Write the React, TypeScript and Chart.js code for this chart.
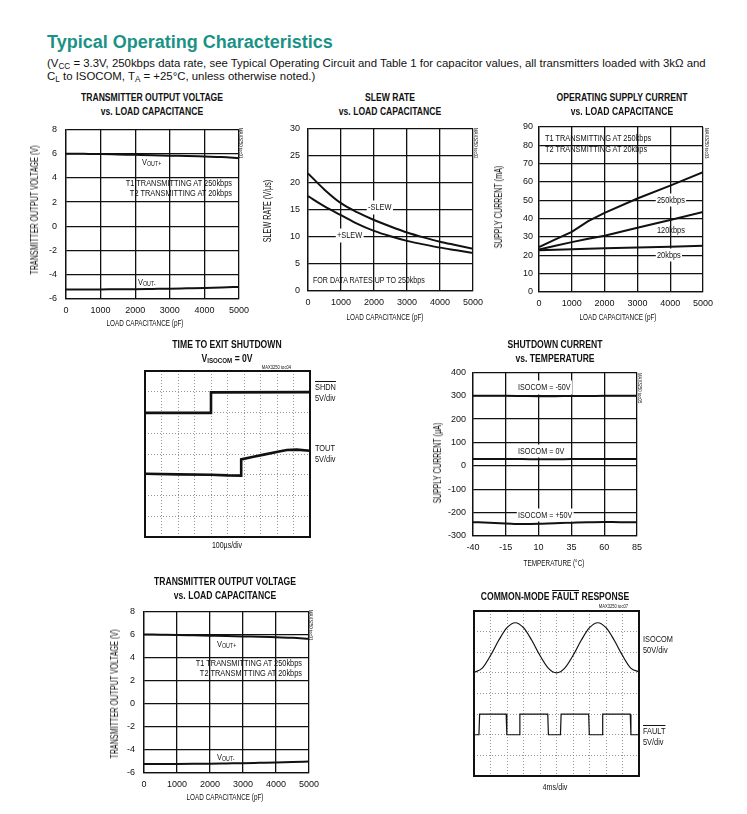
import React, { useEffect, useRef } from 'react';
import { Chart, registerables } from 'chart.js';

Chart.register(...registerables);

const SANS = "'Liberation Sans', Arial, Helvetica, sans-serif";
const INK = '#111111';
const TEAL = '#1a9286';

// ---------------- data ----------------
// Transmitter output voltage vs load capacitance
const capX = [0, 500, 1000, 1500, 2000, 2500, 3000, 3500, 4000, 4500, 5000];
const voutPlus = [6.0, 5.98, 5.96, 5.93, 5.9, 5.87, 5.83, 5.8, 5.76, 5.72, 5.62];
const voutMinus = [-5.22, -5.22, -5.21, -5.2, -5.19, -5.17, -5.15, -5.12, -5.09, -5.05, -5.0];
const capTicks = [0, 1000, 2000, 3000, 4000, 5000];
const voltTicks = [-6, -4, -2, 0, 2, 4, 6, 8];

// Slew rate vs load capacitance
const slewMinus = [21.7, 18.7, 16.2, 14.5, 13.1, 11.9, 10.8, 9.9, 9.1, 8.45, 7.8];
const slewPlus = [17.5, 15.6, 14.0, 12.4, 11.1, 10.1, 9.25, 8.6, 8.0, 7.5, 7.0];
const slewTicks = [0, 5, 10, 15, 20, 25, 30];

// Operating supply current vs load capacitance
const supplyX = [0, 500, 1000, 1500, 2000, 3000, 4000, 5000];
const i250 = [24.5, 28.7, 32.8, 38.6, 43.2, 51.0, 58.0, 65.4];
const i120 = [23.2, 25.2, 27.2, 29.0, 30.7, 35.0, 39.3, 43.6];
const i20 = [22.8, 23.0, 23.3, 23.6, 23.8, 24.3, 24.7, 25.2];
const supplyTicks = [0, 10, 20, 30, 40, 50, 60, 70, 80, 90];

// Shutdown current vs temperature
const tempX = [-40, -27.5, -15, -2.5, 10, 22.5, 35, 47.5, 60, 72.5, 85];
const isoMinus50 = [300, 300, 300, 299, 298, 298, 299, 299, 300, 300, 300];
const iso0 = [29, 29, 29, 29, 28, 28, 29, 29, 29, 29, 29];
const isoPlus50 = [-241, -243, -246, -249, -248, -245, -243, -241, -240, -241, -241];
const tempTicks = [-40, -15, 10, 35, 60, 85];
const currentTicks = [-300, -200, -100, 0, 100, 200, 300, 400];

// Scope: time to exit shutdown (divisions)
const shdnX = [0, 4, 4, 10];
const shdnY = [5.98, 5.98, 6.97, 6.98];
const toutX = [0, 2, 4, 5, 5.83, 5.83, 6.5, 7.2, 8.2, 8.6, 9.2, 10];
const toutY = [3.05, 3.02, 3.0, 2.97, 2.96, 3.74, 3.86, 3.97, 4.13, 4.19, 4.21, 4.16];

// Scope: common-mode fault response (divisions)
const isoX = [0, 0.5, 1, 1.5, 2, 2.5, 3, 3.5, 4, 4.5, 5, 5.5, 6, 6.5, 7, 7.5, 8, 8.5, 9, 9.5, 10];
const isoY = [5.02, 5.23, 5.84, 6.58, 7.19, 7.43, 7.19, 6.58, 5.84, 5.23, 5.0, 5.23, 5.84, 6.58, 7.19, 7.43, 7.19, 6.58, 5.84, 5.23, 5.05];
const faultX = [0, 0.3, 0.34, 1.95, 1.99, 2.74, 2.78, 4.47, 4.51, 5.24, 5.28, 6.95, 6.99, 7.76, 7.8, 9.47, 9.51, 10];
const faultY = [2, 2, 3, 3, 2, 2, 3, 3, 2, 2, 3, 3, 2, 2, 3, 3, 2, 2];

const divXTicks = [0, 1, 2, 3, 4, 5, 6, 7, 8, 9, 10];
const divYTicks = [0, 1, 2, 3, 4, 5, 6, 7, 8];

// ---------------- helpers ----------------
const pts = (xs: number[], ys: number[]) => xs.map((x, i) => ({ x, y: ys[i] }));

const framePlugin = {
  id: 'frame',
  afterDraw(chart: any, _args: any, opts: any) {
    if (!opts || !opts.width) return;
    const { ctx, chartArea: a } = chart;
    ctx.save();
    ctx.strokeStyle = opts.color || INK;
    ctx.lineWidth = opts.width;
    ctx.strokeRect(a.left, a.top, a.right - a.left, a.bottom - a.top);
    ctx.restore();
  },
};
Chart.register(framePlugin);

type Axis = { min: number; max: number; ticks: number[] };
type Spec = {
  plot: [number, number, number, number];
  x: Axis;
  y: Axis;
  yTickPad?: number;
  xTickPad?: number;
  scope?: boolean;
  datasets: any[];
};

function line(xs: number[], ys: number[], w = 2, curve = true) {
  return {
    data: pts(xs, ys),
    borderColor: INK,
    borderWidth: w,
    pointRadius: 0,
    fill: false,
    tension: 0,
    cubicInterpolationMode: curve ? 'monotone' : 'default',
  };
}

function ChartBox({ spec }: { spec: Spec }) {
  const ref = useRef<HTMLCanvasElement>(null);
  const [l, t, r, b] = spec.plot;
  const left = Math.round(l - (spec.scope ? 8 : 36));
  const top = Math.round(t - 12);
  const right = Math.round(r + 26);
  const bottom = Math.round(b + (spec.scope ? 8 : 22));
  const w = right - left;
  const h = bottom - top;

  useEffect(() => {
    const scope = !!spec.scope;
    const tickFont = { family: SANS, size: 9 };
    const setTicks = (arr: number[]) => (scale: any) => {
      scale.ticks = arr.map((v) => ({ value: v }));
    };
    const stdGrid = { color: INK, lineWidth: 1.3, drawTicks: false };
    const scopeGrid = (mn: number, mx: number) => ({
      color: '#8a8a8a',
      lineWidth: (c: any) => (c.tick && (c.tick.value === mn || c.tick.value === mx) ? 0 : 0.9),
      drawTicks: false,
    });
    const cfg: any = {
      type: 'line',
      data: { datasets: spec.datasets },
      options: {
        animation: false,
        responsive: false,
        events: [],
        layout: { padding: { left: 0, top: t - top, right: right - r, bottom: 0 } },
        plugins: {
          legend: { display: false },
          tooltip: { enabled: false },
          frame: scope ? { width: 2, color: INK } : { width: 0 },
        },
        scales: {
          x: {
            type: 'linear',
            min: spec.x.min,
            max: spec.x.max,
            afterBuildTicks: setTicks(spec.x.ticks),
            afterFit: (s: any) => {
              s.height = bottom - b;
            },
            grid: scope ? scopeGrid(spec.x.min, spec.x.max) : stdGrid,
            border: scope ? { display: false, dash: [1, 2] } : { display: true, color: INK, width: 1.3 },
            ticks: {
              display: !scope,
              font: tickFont,
              color: INK,
              padding: spec.xTickPad ?? 6,
              maxRotation: 0,
              autoSkip: false,
              callback: (v: any) => String(v),
            },
            title: { display: false },
          },
          y: {
            type: 'linear',
            min: spec.y.min,
            max: spec.y.max,
            afterBuildTicks: setTicks(spec.y.ticks),
            afterFit: (s: any) => {
              s.width = l - left;
            },
            grid: scope ? scopeGrid(spec.y.min, spec.y.max) : stdGrid,
            border: scope ? { display: false, dash: [1, 2] } : { display: true, color: INK, width: 1.3 },
            ticks: {
              display: !scope,
              font: tickFont,
              color: INK,
              padding: spec.yTickPad ?? 8,
              autoSkip: false,
              callback: (v: any) => String(v),
            },
            title: { display: false },
          },
        },
      },
    };
    const chart = new Chart(ref.current as HTMLCanvasElement, cfg);
    return () => chart.destroy();
  }, []);

  return (
    <canvas
      ref={ref}
      width={w}
      height={h}
      style={{ position: 'absolute', left, top, width: w, height: h }}
    />
  );
}

type LblProps = {
  x: number;
  y: number;
  a?: 'l' | 'c' | 'r';
  s?: number;
  b?: boolean;
  bg?: boolean;
  k?: number;
  color?: string;
  children: React.ReactNode;
};
function T({ x, y, a = 'l', s = 9, b = false, bg = false, k = 0.82, color = INK, children }: LblProps) {
  const tx = a === 'l' ? '0%' : a === 'c' ? '-50%' : '-100%';
  const origin = a === 'l' ? 'left center' : a === 'c' ? 'center center' : 'right center';
  const base: React.CSSProperties = {
    position: 'absolute',
    left: x,
    top: y - s * 0.6,
    fontFamily: SANS,
    fontSize: s,
    lineHeight: `${s * 1.2}px`,
    fontWeight: b ? 700 : 400,
    whiteSpace: 'nowrap',
    transform: `translateX(${tx}) scaleX(${k})`,
    transformOrigin: origin,
  };
  return (
    <>
      {bg ? (
        <div aria-hidden style={{ ...base, color: 'transparent', background: '#fff', boxShadow: '0 0 0 1.5px #fff' }}>
          {children}
        </div>
      ) : null}
      <div style={{ ...base, color }}>{children}</div>
    </>
  );
}

function YT({ x, y, s = 10, k = 0.72, children }: { x: number; y: number; s?: number; k?: number; children: React.ReactNode }) {
  return (
    <div
      style={{
        position: 'absolute',
        left: x,
        top: y,
        fontFamily: SANS,
        fontSize: s,
        lineHeight: `${s * 1.2}px`,
        whiteSpace: 'nowrap',
        transform: `translate(-50%, -50%) rotate(-90deg) scaleX(${k})`,
        transformOrigin: 'center center',
        color: INK,
      }}
    >
      {children}
    </div>
  );
}

const Sub = ({ children }: { children: React.ReactNode }) => (
  <span style={{ fontSize: '0.72em', verticalAlign: '-0.2em' }}>{children}</span>
);
const Over = ({ children }: { children: React.ReactNode }) => (
  <span style={{ textDecoration: 'overline' }}>{children}</span>
);

function VId({ x, y, text }: { x: number; y: number; text: string }) {
  return (
    <div
      style={{
        position: 'absolute',
        left: x + 5,
        top: y,
        fontFamily: SANS,
        fontSize: 5,
        lineHeight: '5px',
        whiteSpace: 'nowrap',
        transform: 'rotate(90deg) scaleX(0.85)',
        transformOrigin: '0 0',
        color: INK,
      }}
    >
      {text}
    </div>
  );
}

// ---------------- specs ----------------
const tovSpec = (plot: [number, number, number, number]): Spec => ({
  plot,
  x: { min: 0, max: 5000, ticks: capTicks },
  y: { min: -6, max: 8, ticks: voltTicks },
  yTickPad: 9,
  datasets: [line(capX, voutPlus), line(capX, voutMinus)],
});

const spec1 = tovSpec([66, 127, 239, 299]);
const spec6 = tovSpec([144, 609, 309, 773]);

const spec2: Spec = {
  plot: [308, 127, 473, 291],
  x: { min: 0, max: 5000, ticks: capTicks },
  y: { min: 0, max: 30, ticks: slewTicks },
  yTickPad: 8,
  datasets: [line(capX, slewMinus), line(capX, slewPlus)],
};

const spec3: Spec = {
  plot: [539, 127, 703, 292],
  x: { min: 0, max: 5000, ticks: capTicks },
  y: { min: 0, max: 90, ticks: supplyTicks },
  yTickPad: 6,
  datasets: [line(supplyX, i250, 2, false), line(supplyX, i120, 2, false), line(supplyX, i20, 2, false)],
};

const spec5: Spec = {
  plot: [473, 372, 637, 536],
  x: { min: -40, max: 85, ticks: tempTicks },
  y: { min: -300, max: 400, ticks: currentTicks },
  yTickPad: 7,
  datasets: [line(tempX, isoMinus50), line(tempX, iso0), line(tempX, isoPlus50)],
};

const spec4: Spec = {
  plot: [145, 371, 310, 537],
  x: { min: 0, max: 10, ticks: divXTicks },
  y: { min: 0, max: 8, ticks: divYTicks },
  scope: true,
  datasets: [line(shdnX, shdnY, 2.6, false), line(toutX, toutY, 2.6, false)],
};

const spec7: Spec = {
  plot: [474, 611, 639, 776],
  x: { min: 0, max: 10, ticks: divXTicks },
  y: { min: 0, max: 8, ticks: divYTicks },
  scope: true,
  datasets: [line(isoX, isoY, 1.2, true), line(faultX, faultY, 1.2, false)],
};

const TK = 0.86; // title compression
const XK = 0.67; // x-axis title compression
const XS = 9.5; // x-axis title size

// ---------------- app ----------------
export default function App() {
  return (
    <div style={{ position: 'absolute', left: 0, top: 0, width: 747, height: 814, background: '#fff', overflow: 'hidden' }}>
      {/* header */}
      <T x={47} y={43} s={18} b k={1} color={TEAL}>
        Typical Operating Characteristics
      </T>
      <T x={47} y={63.5} s={11.4} k={1}>
        (V<Sub>CC</Sub> = 3.3V, 250kbps data rate, see Typical Operating Circuit and Table 1 for capacitor values, all transmitters loaded with 3kΩ and
      </T>
      <T x={47} y={77} s={11.4} k={1}>
        C<Sub>L</Sub> to ISOCOM, T<Sub>A</Sub> = +25°C, unless otherwise noted.)
      </T>

      {/* chart 1 */}
      <T x={151.7} y={98} a="c" s={10} b k={TK}>TRANSMITTER OUTPUT VOLTAGE</T>
      <T x={151.7} y={112} a="c" s={10} b k={TK}>vs. LOAD CAPACITANCE</T>
      <ChartBox spec={spec1} />
      <YT x={35} y={210}>TRANSMITTER OUTPUT VOLTAGE (V)</YT>
      <T x={145} y={322.7} a="c" s={XS} k={XK}>LOAD CAPACITANCE (pF)</T>
      <T x={141.7} y={162.7}>V<Sub>OUT+</Sub></T>
      <T x={232} y={183.3} a="r">T1 TRANSMITTING AT 250kbps</T>
      <T x={232} y={193.3} a="r">T2 TRANSMITTING AT 20kbps</T>
      <T x={138.3} y={282.3}>V<Sub>OUT-</Sub></T>
      <VId x={238} y={128} text="MAX3250 toc01" />

      {/* chart 2 */}
      <T x={390} y={98} a="c" s={10} b k={TK}>SLEW RATE</T>
      <T x={390} y={112} a="c" s={10} b k={TK}>vs. LOAD CAPACITANCE</T>
      <ChartBox spec={spec2} />
      <YT x={268.3} y={211}>SLEW RATE (V/µs)</YT>
      <T x={385.3} y={316.7} a="c" s={XS} k={XK}>LOAD CAPACITANCE (pF)</T>
      <T x={368} y={207.3} bg>-SLEW</T>
      <T x={337} y={235.3} bg>+SLEW</T>
      <T x={312.7} y={280.7} k={0.79}>FOR DATA RATES UP TO 250kbps</T>
      <VId x={473} y={128} text="MAX3250 toc02" />

      {/* chart 3 */}
      <T x={621.7} y={98} a="c" s={10} b k={TK}>OPERATING SUPPLY CURRENT</T>
      <T x={621.7} y={112} a="c" s={10} b k={TK}>vs. LOAD CAPACITANCE</T>
      <ChartBox spec={spec3} />
      <YT x={499} y={207}>SUPPLY CURRENT (mA)</YT>
      <T x={618.3} y={316.7} a="c" s={XS} k={XK}>LOAD CAPACITANCE (pF)</T>
      <T x={545} y={138.3}>T1 TRANSMITTING AT 250kbps</T>
      <T x={545} y={149.3}>T2 TRANSMITTING AT 20kbps</T>
      <T x={656.7} y={200} bg>250kbps</T>
      <T x={656.7} y={230}>120kbps</T>
      <T x={656.7} y={255} bg>20kbps</T>
      <VId x={704} y={128} text="MAX3250 toc03" />

      {/* chart 4 */}
      <T x={226.7} y={345} a="c" s={10} b k={TK}>TIME TO EXIT SHUTDOWN</T>
      <T x={226.7} y={359} a="c" s={10} b k={TK}>V<Sub>ISOCOM</Sub> = 0V</T>
      <T x={291} y={367} a="r" s={5}>MAX3250 toc04</T>
      <ChartBox spec={spec4} />
      <T x={315} y={387.3}><Over>SHDN</Over></T>
      <T x={315} y={398.3}>5V/div</T>
      <T x={315} y={448.3}>TOUT</T>
      <T x={315} y={459}>5V/div</T>
      <T x={226.7} y={545.7} a="c" k={0.78}>100µs/div</T>

      {/* chart 5 */}
      <T x={555} y={345} a="c" s={10} b k={TK}>SHUTDOWN CURRENT</T>
      <T x={555} y={359} a="c" s={10} b k={TK}>vs. TEMPERATURE</T>
      <ChartBox spec={spec5} />
      <YT x={438.3} y={463}>SUPPLY CURRENT (µA)</YT>
      <T x={554} y={562.7} a="c" s={XS} k={XK}>TEMPERATURE (°C)</T>
      <T x={518.3} y={387.3} bg k={0.8}>ISOCOM = -50V</T>
      <T x={518.3} y={451} bg k={0.8}>ISOCOM = 0V</T>
      <T x={518.3} y={515} bg k={0.8}>ISOCOM = +50V</T>
      <VId x={637} y={373} text="MAX3250 toc05" />

      {/* chart 6 */}
      <T x={225} y={582} a="c" s={10} b k={TK}>TRANSMITTER OUTPUT VOLTAGE</T>
      <T x={225} y={596} a="c" s={10} b k={TK}>vs. LOAD CAPACITANCE</T>
      <ChartBox spec={spec6} />
      <YT x={115} y={694}>TRANSMITTER OUTPUT VOLTAGE (V)</YT>
      <T x={225} y={796.7} a="c" s={XS} k={XK}>LOAD CAPACITANCE (pF)</T>
      <T x={216.7} y={644}>V<Sub>OUT+</Sub></T>
      <T x={301.7} y={663.3} a="r">T1 TRANSMITTING AT 250kbps</T>
      <T x={301.7} y={673.3} a="r">T2 TRANSMITTING AT 20kbps</T>
      <T x={216.7} y={757.3}>V<Sub>OUT-</Sub></T>
      <VId x={308} y={610} text="MAX3250 toc01" />

      {/* chart 7 */}
      <T x={555} y={597} a="c" s={10} b k={TK}>COMMON-MODE <Over>FAULT</Over> RESPONSE</T>
      <T x={628} y={606} a="r" s={5}>MAX3250 toc07</T>
      <ChartBox spec={spec7} />
      <T x={643.3} y={639.3}>ISOCOM</T>
      <T x={643.3} y={650.7}>50V/div</T>
      <T x={643.3} y={731.7}><Over>FAULT</Over></T>
      <T x={643.3} y={742.7}>5V/div</T>
      <T x={555} y={787} a="c" k={0.8}>4ms/div</T>
    </div>
  );
}
